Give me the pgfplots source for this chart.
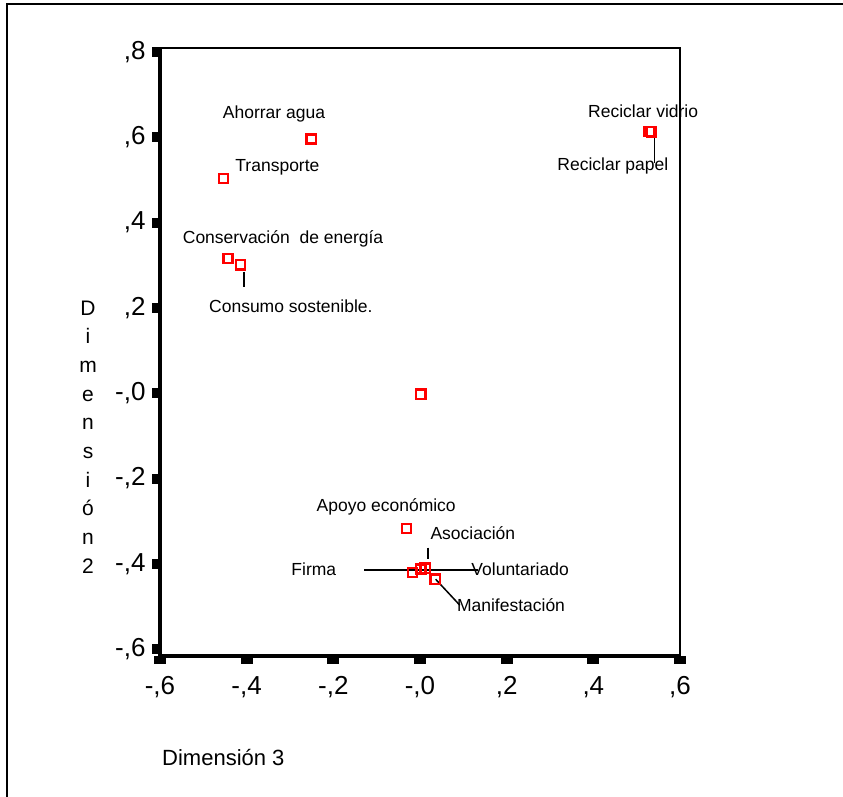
\documentclass[border=0pt]{standalone}
\usepackage{fontspec}
\setmainfont{Liberation Sans}
\usepackage{pgfplots}
\pgfplotsset{compat=1.18}
\begin{document}
\begin{tikzpicture}[x=1pt,y=1pt]
\path[use as bounding box] (0,0) rectangle (843,797);
\draw[line width=2pt] (7,0) -- (7,792.5) -- (843,792.5);
\begin{axis}[
  at={(160pt,141pt)}, anchor=south west,
  scale only axis, width=520pt, height=607.7pt,
  xmin=-0.6, xmax=0.6, ymin=-0.616, ymax=0.8087,
  clip=false,
  axis line style={line width=2pt},
  xtick={-0.6,-0.4,-0.2,0,0.2,0.4,0.6},
  xticklabels={{-,6},{-,4},{-,2},{-,0},{,2},{,4},{,6}},
  ytick={-0.6,-0.4,-0.2,0,0.2,0.4,0.6,0.8},
  yticklabels={{-,6},{-,4},{-,2},{-,0},{,2},{,4},{,6},{,8}},
  xtick pos=left, ytick pos=left,
  tick align=outside, major tick length=8pt,
  xtick style={line width=12pt, black},
  ytick style={line width=10pt, black},
  ticklabel style={font=\fontsize{26}{30}\selectfont},
  xticklabel style={yshift=-9pt},
  yticklabel style={xshift=-3pt},
]
\draw[line width=4.5pt] (rel axis cs:0,1) -- (rel axis cs:0,0) -- (rel axis cs:1,0);
% leader lines
\draw[line width=1.5pt] (axis cs:-0.406,0.285) -- (axis cs:-0.406,0.250);
\draw[line width=1.5pt] (axis cs:0.541,0.617) -- (axis cs:0.541,0.539);
\draw[line width=1.5pt] (axis cs:0.0185,-0.362) -- (axis cs:0.0185,-0.389);
\draw[line width=1.5pt] (axis cs:-0.1285,-0.4145) -- (axis cs:0.1346,-0.4145);
\draw[line width=1.5pt] (axis cs:0.036,-0.436) -- (axis cs:0.092,-0.497);
\addplot[only marks, mark=square, mark size=4.6pt, mark options={draw=red, line width=2.3pt}] coordinates {
(-0.251,0.596) (-0.454,0.504) (-0.443,0.316) (-0.414,0.301) (0.002,-0.002)
(0.529,0.614) (0.534,0.613) (-0.031,-0.317) (-0.017,-0.420) (0.002,-0.412)
(0.012,-0.410) (0.035,-0.436)};
\begin{scope}[every node/.style={font=\fontsize{17.5}{20}\selectfont, inner sep=0pt}]
\node at (axis cs:-0.337,0.655) {Ahorrar agua};
\node at (axis cs:-0.329,0.530) {Transporte};
\node at (axis cs:-0.316,0.363) {Conservación~ de energía};
\node at (axis cs:-0.298,0.203) {Consumo sostenible.};
\node at (axis cs:0.515,0.660) {Reciclar vidrio};
\node at (axis cs:0.445,0.533) {Reciclar papel};
\node at (axis cs:-0.078,-0.266) {Apoyo económico};
\node at (axis cs:0.122,-0.327) {Asociación};
\node at (axis cs:-0.245,-0.413) {Firma};
\node at (axis cs:0.231,-0.413) {Voluntariado};
\node at (axis cs:0.210,-0.497) {Manifestación};
\end{scope}
\end{axis}
\node[anchor=west, inner sep=0pt, font=\fontsize{22}{26}\selectfont] at (162,39) {Dimensión 3};
\node[align=center, inner sep=0pt, font=\fontsize{21}{28.7}\selectfont] at (88,360) {D\\i\\m\\e\\n\\s\\i\\ó\\n\\2};
\end{tikzpicture}
\end{document}
